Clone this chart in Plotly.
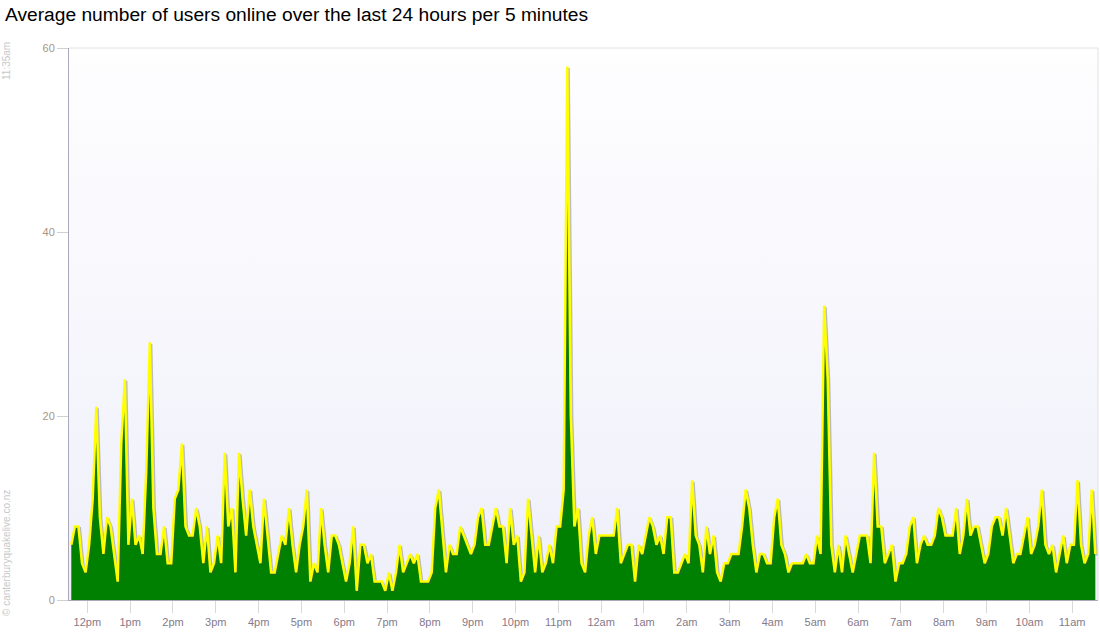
import plotly.graph_objects as go

# Average number of users online, one value per 5 minutes (288 samples over 24 h)
users_12pm_to_3pm = [6, 8, 8, 4, 3, 6, 11, 21, 9, 5, 9, 8, 5, 2, 17, 24, 6, 11, 6, 7, 5, 14, 28, 10,
                     5, 5, 8, 4, 4, 11, 12, 17, 8, 7, 7, 10]
users_3pm_to_6pm = [8, 4, 8, 3, 4, 7, 4, 16, 8, 10, 3, 16, 11, 7, 12, 8, 6, 4, 11, 7, 3, 3, 5, 7,
                    6, 10, 6, 3, 6, 8, 12, 2, 4, 3, 10, 6]
users_6pm_to_9pm = [3, 7, 7, 6, 4, 2, 4, 8, 1, 6, 6, 4, 5, 2, 2, 2, 1, 3, 1, 3, 6, 3, 4, 5,
                    4, 5, 2, 2, 2, 3, 10, 12, 7, 3, 6, 5]
users_9pm_to_12am = [5, 8, 7, 6, 5, 6, 9, 10, 6, 6, 8, 10, 8, 8, 4, 10, 6, 7, 2, 3, 11, 7, 3, 7,
                     3, 4, 6, 4, 8, 8, 12, 58, 20, 8, 10, 4, 3]
users_12am_to_3am = [7, 9, 5, 7, 7, 7, 7, 7, 10, 4, 5, 6, 6, 2, 6, 5, 7, 9, 8, 6, 7, 5, 9, 9,
                     3, 3, 4, 5, 4, 13, 7, 6, 3, 8, 5, 7, 3]
users_3am_to_6am = [2, 4, 4, 5, 5, 5, 8, 12, 10, 6, 3, 5, 5, 4, 4, 9, 11, 6, 5, 3, 4, 4, 4, 4,
                    5, 4, 4, 7, 5, 32, 24, 6, 3, 6, 3]
users_6am_to_9am = [7, 5, 3, 5, 7, 7, 7, 4, 16, 8, 8, 4, 5, 6, 2, 4, 4, 5, 8, 9, 4, 6, 7, 6,
                    6, 7, 10, 9, 7, 7, 7, 10, 5, 7, 11, 7, 8]
users_9am_to_1135am = [8, 6, 4, 5, 8, 9, 9, 7, 10, 7, 4, 5, 5, 7, 9, 5, 6, 8, 12, 6, 5, 6, 3, 5,
                       7, 4, 6, 6, 13, 6, 4, 5, 12, 5]

hour_labels = ["12pm", "1pm", "2pm", "3pm", "4pm", "5pm", "6pm", "7pm", "8pm", "9pm", "10pm", "11pm",
               "12am", "1am", "2am", "3am", "4am", "5am", "6am", "7am", "8am", "9am", "10am", "11am"]
y_ticks = [0, 20, 40, 60]

users = (users_12pm_to_3pm + users_3pm_to_6pm + users_6pm_to_9pm + users_9pm_to_12am +
         users_12am_to_3am + users_3am_to_6am + users_6am_to_9am + users_9am_to_1135am)
slots = list(range(len(users)))
tick_pos = [4.5 + 12 * k for k in range(len(hour_labels))]

# layout geometry
W, H = 1100, 640
M_L, M_R, M_T, M_B = 69, 2, 48, 40
plot_w = W - M_L - M_R
plot_h = H - M_T - M_B
X_MIN, X_MAX = -0.645, 287.75
Y_MIN, Y_MAX = 0, 60
px_x = plot_w / (X_MAX - X_MIN)
px_y = plot_h / (Y_MAX - Y_MIN)
sh_dx = 1.6 / px_x
sh_dy = 1.6 / px_y

FONT = "Liberation Sans, Arial, sans-serif"

fig = go.Figure()

# plot-area gradient background
fig.add_trace(go.Scatter(
    x=[X_MIN, X_MAX, X_MAX, X_MIN, X_MIN], y=[Y_MIN, Y_MIN, Y_MAX, Y_MAX, Y_MIN],
    mode="lines", line=dict(width=0), fill="toself",
    fillgradient=dict(type="vertical", start=Y_MIN, stop=Y_MAX,
                      colorscale=[[0, "#efeffa"], [1, "#fefeff"]]),
    hoverinfo="skip", showlegend=False))

# green area
fig.add_trace(go.Scatter(
    x=slots, y=users, mode="lines", line=dict(width=0, color="#008000"),
    fill="tozeroy", fillcolor="#008000", hoverinfo="skip", showlegend=False))

# line shadow
fig.add_trace(go.Scatter(
    x=slots, y=users, xaxis="x2", yaxis="y2", mode="lines",
    line=dict(color="rgba(80,80,80,0.35)", width=2), hoverinfo="skip", showlegend=False))

# yellow line
fig.add_trace(go.Scatter(
    x=slots, y=users, xaxis="x3", yaxis="y3", mode="lines",
    line=dict(color="#ffff00", width=2.5), showlegend=False))

fig.update_layout(
    width=W, height=H,
    margin=dict(l=M_L, r=M_R, t=M_T, b=M_B, pad=0),
    paper_bgcolor="#ffffff",
    plot_bgcolor="#ffffff",
    font=dict(family=FONT),
    title=dict(text="Average number of users online over the last 24 hours per 5 minutes",
               x=5 / W, xref="container", xanchor="left",
               y=1 - 14 / H, yref="container", yanchor="middle",
               font=dict(size=19.2, color="#000000", family=FONT)),
    xaxis=dict(range=[X_MIN, X_MAX], tickmode="array", tickvals=tick_pos, ticktext=hour_labels,
               ticks="outside", ticklen=12, tickcolor="#d9d9d9", tickwidth=1,
               tickfont=dict(size=11, color="#857a8a", family=FONT),
               showline=True, linecolor="#a9a9b9", linewidth=1,
               showgrid=False, zeroline=False, fixedrange=True),
    yaxis=dict(range=[Y_MIN, Y_MAX], tickmode="array", tickvals=y_ticks,
               ticks="outside", ticklen=11, tickcolor="#d0d0d0", tickwidth=1,
               tickfont=dict(size=11, color="#a8957f", family=FONT),
               showline=True, linecolor="#a9a9b9", linewidth=1,
               showgrid=False, zeroline=False, fixedrange=True),
    xaxis2=dict(range=[X_MIN - sh_dx, X_MAX - sh_dx], overlaying="x", anchor="y2", visible=False),
    yaxis2=dict(range=[Y_MIN + sh_dy, Y_MAX + sh_dy], overlaying="y", anchor="x2", visible=False),
    xaxis3=dict(range=[X_MIN, X_MAX], overlaying="x", anchor="y3", visible=False),
    yaxis3=dict(range=[Y_MIN, Y_MAX], overlaying="y", anchor="x3", visible=False),
    shapes=[
        dict(type="line", xref="paper", yref="paper", x0=0, x1=1, y0=1, y1=1,
             line=dict(color="#e2e2e2", width=1)),
        dict(type="line", xref="paper", yref="paper", x0=1, x1=1, y0=0, y1=1,
             line=dict(color="#e2e2e2", width=1)),
    ],
    annotations=[
        dict(text="11:35am", textangle=-90, xref="paper", yref="paper",
             x=0, xshift=6 - M_L, y=(H - M_B - 61) / plot_h, showarrow=False,
             xanchor="center", yanchor="middle",
             font=dict(size=10, color="#c8c8c8", family=FONT)),
        dict(text="© canterburyquakelive.co.nz", textangle=-90, xref="paper", yref="paper",
             x=0, xshift=6 - M_L, y=(H - M_B - 553) / plot_h, showarrow=False,
             xanchor="center", yanchor="middle",
             font=dict(size=10, color="#c8c8c8", family=FONT)),
    ],
    showlegend=False,
    hovermode=False,
)

fig.write_html("out.html",
               config={"displayModeBar": False, "staticPlot": True},
               post_script="document.body.style.margin='0';document.body.style.overflow='hidden';")
